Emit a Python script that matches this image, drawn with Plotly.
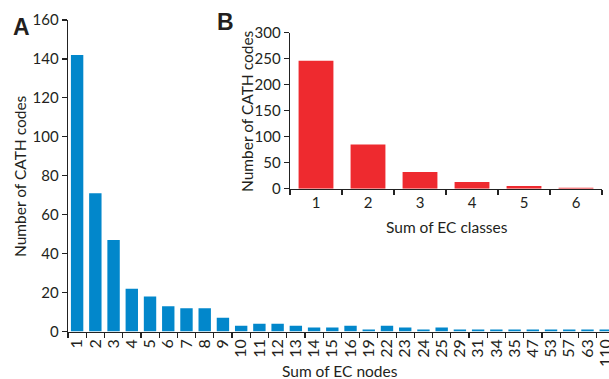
import plotly.graph_objects as go

# Panel A data
ec_nodes = ["1", "2", "3", "4", "5", "6", "7", "8", "9", "10", "11", "12", "13", "14", "15",
            "16", "19", "22", "23", "24", "25", "29", "31", "34", "35", "47", "53", "57", "63", "110"]
cath_counts_a = [142, 71, 47, 22, 18, 13, 12, 12, 7, 3, 4, 4, 3, 2, 2,
                 3, 1, 3, 2, 1, 2, 1, 1, 1, 1, 1, 1, 1, 1, 1]

# Panel B data
ec_classes = ["1", "2", "3", "4", "5", "6"]
cath_counts_b = [246, 85, 32, 13, 5, 2]

W, H = 609, 379
FONT = "Lato"
TXT = "#231F20"
AX = "#222222"

def px(x):
    return x / W

def py(y):
    return 1 - y / H

fig = go.Figure()
fig.add_trace(go.Bar(x=ec_nodes, y=cath_counts_a, marker_color="#0287CB",
                     marker_line_width=0, width=0.68, xaxis="x", yaxis="y",
                     showlegend=False, hoverinfo="skip"))
fig.add_trace(go.Bar(x=ec_classes, y=cath_counts_b, marker_color="#EE2A2F",
                     marker_line_width=0, width=0.67, xaxis="x2", yaxis="y2",
                     showlegend=False, hoverinfo="skip"))

axis_common = dict(showline=True, linecolor=AX, linewidth=1.3, ticks="outside",
                   ticklen=5, tickcolor=AX, tickwidth=1.2, showgrid=False, zeroline=False,
                   automargin=False)

tf = dict(family=FONT, size=15, color=TXT)
tfx = dict(family=FONT, size=16, color=TXT)

fig.update_layout(
    template="none",
    width=W, height=H,
    margin=dict(l=0, r=0, t=0, b=0, pad=0),
    paper_bgcolor="white", plot_bgcolor="rgba(0,0,0,0)",
    xaxis=dict(domain=[px(68), 1.0], type="category", range=[-0.5, 29.18],
               tickmode="array", tickvals=ec_nodes, ticktext=ec_nodes,
               tickson="boundaries", tickangle=-90, anchor="y", tickfont=tfx, **axis_common),
    yaxis=dict(domain=[py(331.5), py(20)], range=[0, 160], dtick=20, anchor="x",
               tickfont=tf, **axis_common),
    xaxis2=dict(domain=[px(290), px(602)], type="category", range=[-0.5, 5.5],
                tickson="boundaries", anchor="y2", tickfont=tf, **axis_common),
    yaxis2=dict(domain=[py(188.7), py(32.7)], range=[0, 300], dtick=50, anchor="x2",
                tickfont=tf, **axis_common),
    font=dict(family=FONT, color=TXT),
)

ann = [
    dict(text="Number of CATH codes", x=px(20), y=py(176), textangle=-90, size=15.5, fam=FONT),
    dict(text="Sum of EC nodes", x=px(340), y=py(371), textangle=0, size=15.5, fam=FONT),
    dict(text="Number of CATH codes", x=px(247), y=py(111), textangle=-90, size=15.5, fam=FONT),
    dict(text="Sum of EC classes", x=px(447), y=py(227), textangle=0, size=15.5, fam=FONT),
    dict(text="<b>A</b>", x=px(21), y=py(27), textangle=0, size=23, fam="Liberation Sans"),
    dict(text="<b>B</b>", x=px(225), y=py(22), textangle=0, size=23, fam="Liberation Sans"),
]
for a in ann:
    fig.add_annotation(text=a["text"], x=a["x"], y=a["y"], xref="paper", yref="paper",
                       xanchor="center", yanchor="middle", showarrow=False,
                       textangle=a["textangle"],
                       font=dict(family=a["fam"], size=a["size"], color=TXT))

fig.write_html("out.html", config={"displayModeBar": False, "staticPlot": True},
               post_script="document.body.style.margin='0';")
